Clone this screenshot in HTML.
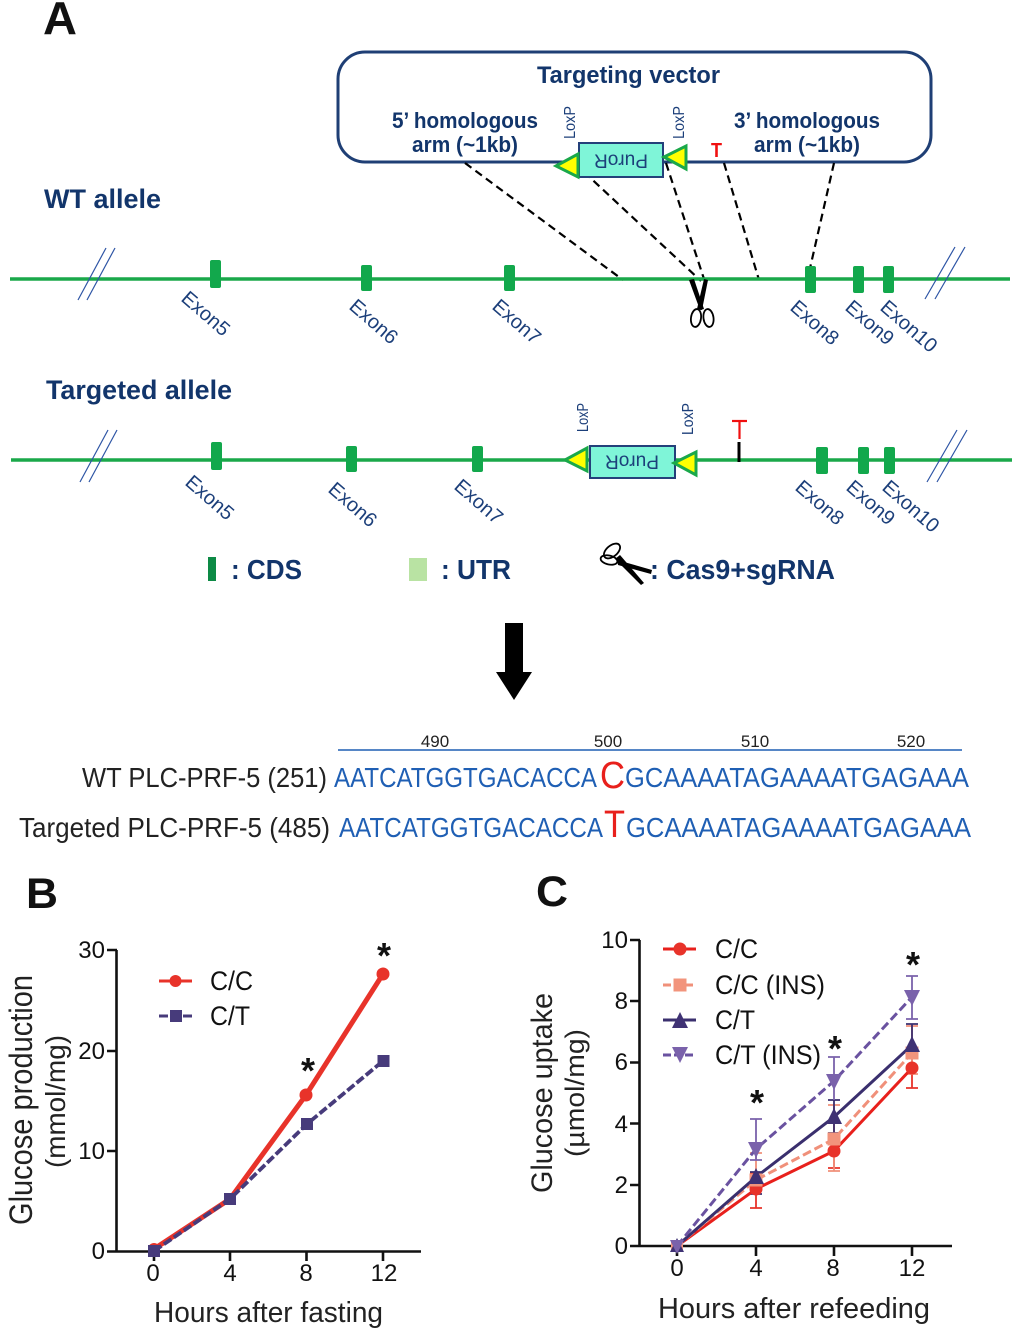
<!DOCTYPE html>
<html><head><meta charset="utf-8"><style>html,body{margin:0;padding:0;background:#fff}svg{display:block}
text{font-family:"Liberation Sans",sans-serif}
.n{fill:#12356b;font-weight:bold}
.ex{fill:#1c3f7a;font-size:20px}
.lx{fill:#1c3f7a;font-size:16px}
.t{fill:#111;font-size:24px}
.s{fill:#1f5fb4;font-size:28px}
.k{fill:#222;font-size:28px}
.d{stroke:#000;stroke-width:2.2;stroke-dasharray:8 5;fill:none}
.b{stroke:#2e55a5;stroke-width:1.2;fill:none}
.ax{stroke:#111;stroke-width:2.6;fill:none}
.st{font-size:36px;font-weight:bold;fill:#111;text-anchor:middle}
</style></head><body>
<svg width="1020" height="1338" viewBox="0 0 1020 1338" xmlns="http://www.w3.org/2000/svg">
<rect width="1020" height="1338" fill="#fff"/>
<text x="43" y="34" font-size="46" font-weight="bold" fill="#111" textLength="34" lengthAdjust="spacingAndGlyphs">A</text>
<text x="26" y="908" font-size="43" font-weight="bold" fill="#111" textLength="32" lengthAdjust="spacingAndGlyphs">B</text>
<text x="536" y="906" font-size="43" font-weight="bold" fill="#111" textLength="32" lengthAdjust="spacingAndGlyphs">C</text>

<rect x="338" y="52" width="593" height="110" rx="27" fill="none" stroke="#1f3f75" stroke-width="3"/>
<text class="n" x="537" y="83" font-size="24" textLength="183" lengthAdjust="spacingAndGlyphs">Targeting vector</text>
<text class="n" x="392" y="128" font-size="22" textLength="146" lengthAdjust="spacingAndGlyphs">5’ homologous</text>
<text class="n" x="412" y="152" font-size="22" textLength="106" lengthAdjust="spacingAndGlyphs">arm (~1kb)</text>
<text class="n" x="734" y="128" font-size="22" textLength="146" lengthAdjust="spacingAndGlyphs">3’ homologous</text>
<text class="n" x="754" y="152" font-size="22" textLength="106" lengthAdjust="spacingAndGlyphs">arm (~1kb)</text>
<text x="711" y="157" font-size="20" font-weight="bold" fill="#f01010" textLength="11" lengthAdjust="spacingAndGlyphs">T</text>
<text class="lx" transform="translate(575,139) rotate(-90)" textLength="33" lengthAdjust="spacingAndGlyphs">LoxP</text>
<text class="lx" transform="translate(684,139) rotate(-90)" textLength="33" lengthAdjust="spacingAndGlyphs">LoxP</text>

<path class="d" d="M465 163L623 280M584 172L701 281M666 163L704 279M724 163L759 280M834 163L808 277"/>
<rect x="579" y="143" width="84" height="34" fill="#7ff5d8" stroke="#24407a" stroke-width="2"/>
<text transform="translate(621,160) rotate(180)" text-anchor="middle" dominant-baseline="central" font-size="19" fill="#1c3f7a" textLength="54" lengthAdjust="spacingAndGlyphs">PuroR</text>
<polygon points="556,166 578,154 578,177" fill="#ffff00" stroke="#1aa84a" stroke-width="3"/>
<polygon points="664,157 686,146 686,169" fill="#ffff00" stroke="#1aa84a" stroke-width="3"/>

<text class="n" x="44" y="208" font-size="27" textLength="117" lengthAdjust="spacingAndGlyphs">WT allele</text>
<text class="n" x="46" y="399" font-size="27" textLength="186" lengthAdjust="spacingAndGlyphs">Targeted allele</text>

<line x1="10" y1="279" x2="1010" y2="279" stroke="#1aa84a" stroke-width="3.6"/>
<path class="b" d="M78 300L106 248M87 300L115 248M925 299L955 247M935 299L965 247"/>
<g fill="#12a84c">
<rect x="210" y="260" width="11" height="28" rx="2"/><rect x="361" y="265" width="11" height="26" rx="2"/><rect x="504" y="265" width="11" height="26" rx="2"/><rect x="805" y="266" width="11" height="27" rx="2"/><rect x="853" y="266" width="11" height="27" rx="2"/><rect x="883" y="266" width="11" height="27" rx="2"/>
</g>
<text class="ex" transform="translate(180,300) rotate(41)">Exon5</text>
<text class="ex" transform="translate(348,308) rotate(41)">Exon6</text>
<text class="ex" transform="translate(491,308) rotate(41)">Exon7</text>
<text class="ex" transform="translate(789,309) rotate(41)">Exon8</text>
<text class="ex" transform="translate(844,309) rotate(41)">Exon9</text>
<text class="ex" transform="translate(879,309) rotate(41)">Exon10</text>
<polygon points="689,280 694,279 704,309 700,310" fill="#000"/>
<polygon points="704,279 708,280 702,310 697,309" fill="#000"/>
<g fill="none" stroke="#000" stroke-width="1.8">
<ellipse cx="696" cy="318" rx="5" ry="9" transform="rotate(8 696 318)"/><ellipse cx="708.500" cy="318" rx="5" ry="9" transform="rotate(-8 708.500 318)"/>
</g>

<line x1="11" y1="460" x2="1012" y2="460" stroke="#1aa84a" stroke-width="3.6"/>
<path class="b" d="M80 482L108 430M89 482L117 430M927 482L957 430M937 482L967 430"/>
<g fill="#12a84c">
<rect x="211" y="442" width="11" height="28" rx="2"/><rect x="346" y="446" width="11" height="26" rx="2"/><rect x="472" y="446" width="11" height="26" rx="2"/><rect x="816" y="447" width="12" height="27" rx="2"/><rect x="858" y="447" width="11" height="27" rx="2"/><rect x="884" y="447" width="11" height="27" rx="2"/>
</g>
<text class="ex" transform="translate(184,484) rotate(41)">Exon5</text>
<text class="ex" transform="translate(327,491) rotate(41)">Exon6</text>
<text class="ex" transform="translate(453,488) rotate(41)">Exon7</text>
<text class="ex" transform="translate(794,489) rotate(41)">Exon8</text>
<text class="ex" transform="translate(845,489) rotate(41)">Exon9</text>
<text class="ex" transform="translate(881,489) rotate(41)">Exon10</text>
<text class="lx" transform="translate(588,432) rotate(-90)" textLength="29" lengthAdjust="spacingAndGlyphs">LoxP</text>
<text class="lx" transform="translate(693,435) rotate(-90)" textLength="32" lengthAdjust="spacingAndGlyphs">LoxP</text>
<rect x="590" y="446" width="85" height="32" fill="#7ff5d8" stroke="#24407a" stroke-width="2"/>
<text transform="translate(632,461) rotate(180)" text-anchor="middle" dominant-baseline="central" font-size="19" fill="#1c3f7a" textLength="54" lengthAdjust="spacingAndGlyphs">PuroR</text>
<polygon points="565,460 587,448 587,471" fill="#ffff00" stroke="#1aa84a" stroke-width="3"/>
<polygon points="674,463 696,452 696,475" fill="#ffff00" stroke="#1aa84a" stroke-width="3"/>
<line x1="732" y1="421" x2="747" y2="421" stroke="#f01010" stroke-width="2.2"/>
<line x1="739.500" y1="421" x2="739.500" y2="439" stroke="#f01010" stroke-width="2.200"/>
<line x1="739" y1="442" x2="739" y2="462" stroke="#000" stroke-width="3"/>

<rect x="208" y="557" width="8" height="24" fill="#0d8a45"/>
<text class="n" x="231" y="579" font-size="28" textLength="71" lengthAdjust="spacingAndGlyphs">: CDS</text>
<rect x="409" y="558" width="18" height="23" fill="#b9e3a3"/>
<text class="n" x="441" y="579" font-size="28" textLength="70" lengthAdjust="spacingAndGlyphs">: UTR</text>
<g fill="none" stroke="#000" stroke-width="1.8">
<ellipse cx="612" cy="551" rx="9.500" ry="5.500" transform="rotate(-40 612 551)"/>
<ellipse cx="609" cy="560" rx="8.500" ry="4.500" transform="rotate(12 609 560)"/>
</g>
<polygon points="617,560 652,570 651,574 618,565" fill="#000"/>
<polygon points="620,555 644,583 641,585 615,559" fill="#000"/>
<text class="n" x="650" y="579" font-size="28" textLength="185" lengthAdjust="spacingAndGlyphs">: Cas9+sgRNA</text>

<polygon points="505,623 523,623 523,672 532,672 514,700 496,672 505,672" fill="#000"/>

<line x1="338" y1="750" x2="962" y2="750" stroke="#1f5fb4" stroke-width="1.400"/>
<g font-size="17" fill="#222" text-anchor="middle"><text x="435" y="747">490</text><text x="608" y="747">500</text><text x="755" y="747">510</text><text x="911" y="747">520</text></g>
<text class="k" x="82" y="787" textLength="245" lengthAdjust="spacingAndGlyphs">WT PLC-PRF-5 (251)</text>
<text class="s" x="334" y="787" textLength="263" lengthAdjust="spacingAndGlyphs">AATCATGGTGACACCA</text>
<text x="600" y="788" font-size="38" fill="#e8201c" textLength="25" lengthAdjust="spacingAndGlyphs">C</text>
<text class="s" x="625" y="787" textLength="344" lengthAdjust="spacingAndGlyphs">GCAAAATAGAAAATGAGAAA</text>
<text class="k" x="19" y="837" textLength="311" lengthAdjust="spacingAndGlyphs">Targeted PLC-PRF-5 (485)</text>
<text class="s" x="339" y="837" textLength="264" lengthAdjust="spacingAndGlyphs">AATCATGGTGACACCA</text>
<text x="604" y="837" font-size="38" fill="#e8201c" textLength="21" lengthAdjust="spacingAndGlyphs">T</text>
<text class="s" x="626" y="837" textLength="345" lengthAdjust="spacingAndGlyphs">GCAAAATAGAAAATGAGAAA</text>

<!-- Chart B -->
<path class="ax" d="M116.500 950V1252M107 1251.500H421M107 950H117M107 1051H117M107 1151H117M154 1251V1261M230 1251V1261M306.500 1251V1261M383 1251V1261"/>
<g class="t" text-anchor="end"><text x="105" y="958">30</text><text x="105" y="1059">20</text><text x="105" y="1159">10</text><text x="105" y="1259">0</text></g>
<g class="t" text-anchor="middle"><text x="153" y="1281">0</text><text x="230" y="1281">4</text><text x="306" y="1281">8</text><text x="384" y="1281">12</text></g>
<text transform="translate(32,1225) rotate(-90)" font-size="32" fill="#222" textLength="250" lengthAdjust="spacingAndGlyphs">Glucose production</text>
<text transform="translate(65,1168) rotate(-90)" font-size="28" fill="#222" textLength="133" lengthAdjust="spacingAndGlyphs">(mmol/mg)</text>
<text x="154" y="1322" font-size="29" fill="#222" textLength="229" lengthAdjust="spacingAndGlyphs">Hours after fasting</text>
<polyline points="154,1249 230,1199 306,1095 383,974" fill="none" stroke="#e8332a" stroke-width="5"/>
<g fill="#e8332a"><circle cx="154" cy="1249" r="6"/><circle cx="230" cy="1199" r="6"/><circle cx="306" cy="1095" r="6.500"/><circle cx="383" cy="974" r="6.500"/></g>
<polyline points="154,1251 230,1199 307,1124 383,1061" fill="none" stroke="#473b7b" stroke-width="3.800" stroke-dasharray="9 3"/>
<g fill="#473b7b"><rect x="148" y="1245" width="12" height="12"/><rect x="224" y="1193" width="12" height="12"/><rect x="301" y="1118" width="12" height="12"/><rect x="377.500" y="1055" width="12" height="12"/></g>
<line x1="159" y1="981" x2="192" y2="981" stroke="#e8332a" stroke-width="3"/><circle cx="175.500" cy="981" r="6" fill="#e8332a"/>
<line x1="159" y1="1016" x2="192" y2="1016" stroke="#473b7b" stroke-width="3" stroke-dasharray="9 3"/><rect x="170" y="1010" width="12" height="12" fill="#473b7b"/>
<text class="t" x="210" y="990" style="font-size:27px" textLength="43" lengthAdjust="spacingAndGlyphs">C/C</text>
<text class="t" x="210" y="1025" style="font-size:27px" textLength="40" lengthAdjust="spacingAndGlyphs">C/T</text>
<text class="st" x="308" y="1083">*</text>
<text class="st" x="384" y="968">*</text>

<!-- Chart C -->
<path class="ax" d="M639.500 940V1247M630 1246H952M630 940H640M630 1001H640M630 1062.500H640M630 1123.500H640M630 1185H640M677 1246V1256M756 1246V1256M834 1246V1256M912 1246V1256"/>
<g class="t" text-anchor="end"><text x="628" y="948">10</text><text x="628" y="1009">8</text><text x="628" y="1070">6</text><text x="628" y="1132">4</text><text x="628" y="1193">2</text><text x="628" y="1254">0</text></g>
<g class="t" text-anchor="middle"><text x="677" y="1276">0</text><text x="756" y="1276">4</text><text x="833" y="1276">8</text><text x="912" y="1276">12</text></g>
<text transform="translate(552,1193) rotate(-90)" font-size="30" fill="#222" textLength="200" lengthAdjust="spacingAndGlyphs">Glucose uptake</text>
<text transform="translate(584,1157) rotate(-90)" font-size="27" fill="#222" textLength="128" lengthAdjust="spacingAndGlyphs">(µmol/mg)</text>
<text x="658" y="1318" font-size="29" fill="#222" textLength="272" lengthAdjust="spacingAndGlyphs">Hours after refeeding</text>

<!-- error bars -->
<path d="M756 1173V1208M750 1173H762M750 1208H762M834 1108V1168M828 1168H840M912 1040V1088M906 1088H918" stroke="#e8332a" stroke-width="1.800" fill="none"/>
<path d="M756 1153V1195M750 1153H762M834 1105V1171M828 1105H840M828 1171H840M912 1026V1074M906 1026H918M906 1074H918" stroke="#f0907a" stroke-width="1.800" fill="none"/>
<path d="M756 1172V1194M750 1172H762M750 1194H762M834 1100V1133M828 1100H840M828 1133H840M912 1024V1058M906 1024H918M906 1058H918" stroke="#3a2f6e" stroke-width="1.800" fill="none"/>
<path d="M756 1119V1160M750 1119H762M750 1160H762M834 1057V1100M828 1057H840M912 976V1019M906 976H918M906 1019H918" stroke="#7a62ab" stroke-width="1.800" fill="none"/>

<polyline points="677,1246 756,1189 834,1151 912,1068" fill="none" stroke="#e8201c" stroke-width="3"/>
<polyline points="677,1246 756,1180 834,1139 912,1053" fill="none" stroke="#f0907a" stroke-width="3" stroke-dasharray="9 4"/>
<polyline points="677,1246 756,1177 834,1117 912,1045" fill="none" stroke="#3a2f6e" stroke-width="3"/>
<polyline points="677,1246 756,1149 834,1081 912,997" fill="none" stroke="#6a52a0" stroke-width="3" stroke-dasharray="9 4"/>
<g fill="#e8332a"><circle cx="756" cy="1189" r="6.500"/><circle cx="834" cy="1151" r="6.500"/><circle cx="912" cy="1068" r="6.500"/></g>
<g fill="#f2947c"><rect x="749.500" y="1173.500" width="13" height="13"/><rect x="827.500" y="1132.500" width="13" height="13"/><rect x="905.500" y="1046.500" width="13" height="13"/></g>
<g fill="#3f3274"><polygon points="756,1168 764,1184 748,1184"/><polygon points="834,1108 842,1124 826,1124"/><polygon points="912,1036 920,1052 904,1052"/></g>
<g fill="#7a62ab"><polygon points="756,1158 764,1142 748,1142"/><polygon points="834,1090 842,1074 826,1074"/><polygon points="912,1006 920,990 904,990"/></g>
<circle cx="677" cy="1246" r="5.500" fill="#e8332a"/><rect x="671" y="1240" width="12" height="12" fill="#f2947c"/><polygon points="677,1238 684,1252 670,1252" fill="#3f3274"/><polygon points="677,1254 684,1240 670,1240" fill="#7a62ab"/>

<line x1="663" y1="949" x2="696" y2="949" stroke="#e8201c" stroke-width="3"/><circle cx="680" cy="949" r="6.500" fill="#e8332a"/>
<line x1="663" y1="985" x2="696" y2="985" stroke="#f0907a" stroke-width="3" stroke-dasharray="8 3"/><rect x="673.500" y="978.500" width="13" height="13" fill="#f2947c"/>
<line x1="663" y1="1020" x2="696" y2="1020" stroke="#3a2f6e" stroke-width="3"/><polygon points="680,1012 688,1028 672,1028" fill="#3f3274"/>
<line x1="663" y1="1055" x2="696" y2="1055" stroke="#6a52a0" stroke-width="3" stroke-dasharray="8 3"/><polygon points="680,1063 688,1047 672,1047" fill="#7a62ab"/>
<text class="t" x="715" y="958" style="font-size:27px" textLength="43" lengthAdjust="spacingAndGlyphs">C/C</text>
<text class="t" x="715" y="994" style="font-size:27px" textLength="110" lengthAdjust="spacingAndGlyphs">C/C (INS)</text>
<text class="t" x="715" y="1029" style="font-size:27px" textLength="40" lengthAdjust="spacingAndGlyphs">C/T</text>
<text class="t" x="715" y="1064" style="font-size:27px" textLength="106" lengthAdjust="spacingAndGlyphs">C/T (INS)</text>
<text class="st" x="757" y="1115">*</text>
<text class="st" x="835" y="1061">*</text>
<text class="st" x="913" y="977">*</text>
</svg>
</body></html>
